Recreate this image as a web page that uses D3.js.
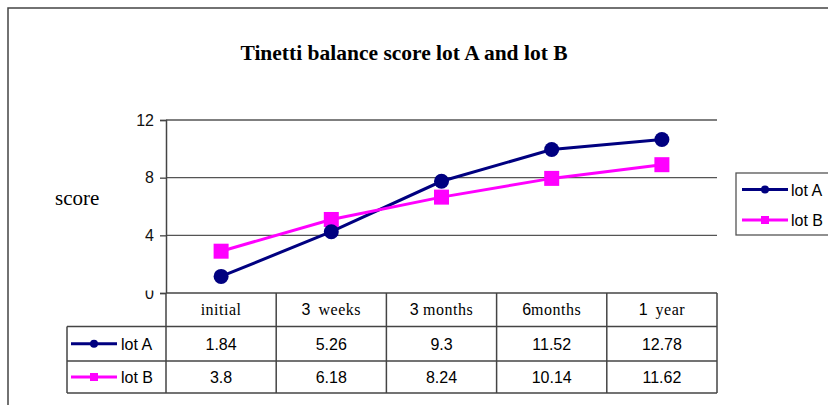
<!DOCTYPE html>
<html lang="en">
<head>
    <title>Tinetti balance score</title>
    <script src="https://d3js.org/d3.v7.min.js"></script>
    <style>
        body { margin: 0; background: #fff; }
    </style>
</head>
<body>
    <div id="chart"></div>
    <script>

        // categories (number part and word part of each header)
        const categories = ["initial", "3 weeks", "3 months", "6 months", "1 year"];
        const catNumbers = ["", "3", "3", "6", "1"];
        const catWords = ["initial", "weeks", "months", "months", "year"];

        // values as plotted on the chart
        const lotA = [1.15, 4.25, 7.75, 9.95, 10.65];
        const lotB = [2.9, 5.1, 6.65, 7.95, 8.9];

        // values printed in the data table
        const tableA = ["1.84", "5.26", "9.3", "11.52", "12.78"];
        const tableB = ["3.8", "6.18", "8.24", "10.14", "11.62"];

        const yTicks = [0, 4, 8, 12];

        const W = 828, H = 405;
        const navy = "#000080", pink = "#ff00ff";
        const sans = "Liberation Sans, Arial, sans-serif";
        const serif = "Liberation Serif, Times New Roman, serif";

        const svg = d3.select("#chart")
            .append("svg")
            .attr("width", W)
            .attr("height", H);

        // outer frame
        svg.append("path")
            .attr("d", `M8,${H} L8,8 L${W},8`)
            .attr("fill", "none")
            .attr("stroke", "#444")
            .attr("stroke-width", 1.5);

        // title
        svg.append("text")
            .attr("x", 404)
            .attr("y", 60)
            .attr("text-anchor", "middle")
            .style("font-family", serif)
            .style("font-weight", "bold")
            .style("font-size", "21.5px")
            .text("Tinetti balance score lot A and lot B");

        const x = d3.scaleBand()
            .domain(categories)
            .range([166, 717]);

        const y = d3.scaleLinear()
            .domain([0, 12])
            .range([293, 120]);

        // gridlines
        svg.selectAll("line.grid")
            .data(yTicks.filter(d => d > 0))
            .enter()
                .append("line")
                .attr("class", "grid")
                .attr("x1", 166)
                .attr("x2", 717)
                .attr("y1", d => y(d))
                .attr("y2", d => y(d))
                .attr("stroke", "#555")
                .attr("stroke-width", 1.3);

        // y axis
        const yAxis = svg.append("g")
            .attr("transform", "translate(166,0)")
            .call(d3.axisLeft(y).tickValues(yTicks).tickSize(6).tickPadding(6));
        yAxis.select(".domain").attr("stroke", "#444").attr("stroke-width", 1.5);
        yAxis.selectAll(".tick line").attr("stroke", "#444").attr("stroke-width", 1.3);
        yAxis.selectAll(".tick text")
            .style("font-family", sans)
            .style("font-size", "16px")
            .attr("fill", "#111");

        // the "0" label is half hidden in the original
        svg.append("rect")
            .attr("x", 130).attr("y", 280)
            .attr("width", 28).attr("height", 10.5)
            .attr("fill", "#fff");

        svg.append("text")
            .attr("x", 55)
            .attr("y", 205)
            .style("font-family", serif)
            .style("font-size", "21px")
            .text("score");

        // lines and markers
        const line = d3.line()
            .x((d, i) => x(categories[i]) + x.bandwidth() / 2)
            .y(d => y(d));

        svg.append("path")
            .datum(lotA)
            .attr("d", line)
            .attr("fill", "none")
            .attr("stroke", navy)
            .attr("stroke-width", 3);

        svg.append("path")
            .datum(lotB)
            .attr("d", line)
            .attr("fill", "none")
            .attr("stroke", pink)
            .attr("stroke-width", 3);

        svg.selectAll("rect.mb")
            .data(lotB)
            .enter()
                .append("rect")
                .attr("class", "mb")
                .attr("x", (d, i) => x(categories[i]) + x.bandwidth() / 2 - 7.5)
                .attr("y", d => y(d) - 7.5)
                .attr("width", 15)
                .attr("height", 15)
                .attr("fill", pink);

        svg.selectAll("circle.ma")
            .data(lotA)
            .enter()
                .append("circle")
                .attr("class", "ma")
                .attr("cx", (d, i) => x(categories[i]) + x.bandwidth() / 2)
                .attr("cy", d => y(d))
                .attr("r", 7.5)
                .attr("fill", navy);

        // legend
        const legend = svg.append("g");
        legend.append("rect")
            .attr("x", 736)
            .attr("y", 173)
            .attr("width", 100)
            .attr("height", 62)
            .attr("fill", "#fff")
            .attr("stroke", "#555")
            .attr("stroke-width", 1.3);

        const legendItems = [
            { name: "lot A", color: navy, shape: "circle", ly: 189.5 },
            { name: "lot B", color: pink, shape: "square", ly: 220 }
        ];

        const drawKey = (g, d, x1, x2, size) => {
            g.append("line")
                .attr("x1", x1).attr("x2", x2)
                .attr("y1", d.ly).attr("y2", d.ly)
                .attr("stroke", d.color)
                .attr("stroke-width", 3);
            const cx = (x1 + x2) / 2;
            if (d.shape === "circle") {
                g.append("circle").attr("cx", cx).attr("cy", d.ly).attr("r", size / 2).attr("fill", d.color);
            } else {
                g.append("rect").attr("x", cx - size / 2).attr("y", d.ly - size / 2)
                    .attr("width", size).attr("height", size).attr("fill", d.color);
            }
        };

        legendItems.forEach(d => {
            drawKey(legend, d, 742, 788, 8);
            legend.append("text")
                .attr("x", 791)
                .attr("y", d.ly + 6)
                .style("font-family", sans)
                .style("font-size", "16px")
                .text(d.name);
        });

        // data table
        const table = svg.append("g");
        const rowTop = 293, rowH = [33.5, 34.5, 32];
        const rowY = [rowTop, rowTop + rowH[0], rowTop + rowH[0] + rowH[1], rowTop + rowH[0] + rowH[1] + rowH[2]];
        const colX = categories.map(c => x(c)).concat([x.range()[1]]);

        table.append("rect")
            .attr("x", 166).attr("y", rowY[0])
            .attr("width", 717 - 166).attr("height", rowY[3] - rowY[0])
            .attr("fill", "#fff");
        table.append("rect")
            .attr("x", 67).attr("y", rowY[1])
            .attr("width", 99).attr("height", rowY[3] - rowY[1])
            .attr("fill", "#fff");

        const tStroke = "#444";
        // horizontal lines
        table.append("line").attr("x1", 166).attr("x2", 717).attr("y1", rowY[0]).attr("y2", rowY[0]);
        [1, 2, 3].forEach(i => {
            table.append("line").attr("x1", 67).attr("x2", 717).attr("y1", rowY[i]).attr("y2", rowY[i]);
        });
        // vertical lines
        colX.forEach(cx => {
            table.append("line").attr("x1", cx).attr("x2", cx).attr("y1", rowY[0]).attr("y2", rowY[3]);
        });
        table.append("line").attr("x1", 67).attr("x2", 67).attr("y1", rowY[1]).attr("y2", rowY[3]);
        table.selectAll("line").attr("stroke", tStroke).attr("stroke-width", 1.5);

        // header labels
        categories.forEach((c, i) => {
            const t = table.append("text")
                .attr("x", x(c) + x.bandwidth() / 2)
                .attr("y", rowY[0] + 22)
                .attr("text-anchor", "middle");
            if (catNumbers[i]) {
                t.append("tspan")
                    .style("font-family", sans)
                    .style("font-size", "16px")
                    .text(catNumbers[i] + (i === 2 ? " " : i === 3 ? "" : "\u2002"));
            }
            t.append("tspan")
                .style("font-family", serif)
                .style("font-size", "16px")
                .style("letter-spacing", "0.5px")
                .text(catWords[i]);
        });

        // data rows
        const rows = [
            { item: legendItems[0], vals: tableA },
            { item: legendItems[1], vals: tableB }
        ];
        rows.forEach((r, ri) => {
            const cy = (rowY[ri + 1] + rowY[ri + 2]) / 2;
            drawKey(table, { ...r.item, ly: cy }, 71, 117, 8);
            table.append("text")
                .attr("x", 121)
                .attr("y", cy + 6)
                .style("font-family", sans)
                .style("font-size", "16px")
                .text(r.item.name);
            r.vals.forEach((v, i) => {
                table.append("text")
                    .attr("x", x(categories[i]) + x.bandwidth() / 2)
                    .attr("y", cy + 6)
                    .attr("text-anchor", "middle")
                    .style("font-family", sans)
                    .style("font-size", "16px")
                    .text(v);
            });
        });

    </script>
</body>
</html>
